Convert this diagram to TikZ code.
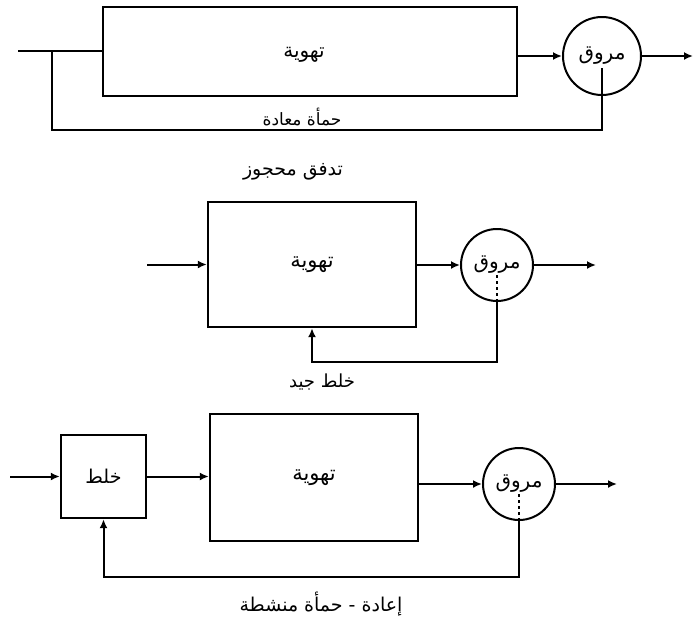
\documentclass[tikz,border=0pt]{standalone}
\usepackage{fontspec}
\newfontfamily\arabicfont[Script=Arabic]{DejaVu Sans}
\TeXXeTstate=1
\usetikzlibrary{arrows.meta,positioning,calc}
\newcommand{\ar}[1]{{\arabicfont\beginR #1\endR}}

\begin{document}
\begin{tikzpicture}[x=1pt, y=-1pt,
  font=\fontsize{19}{22}\selectfont,
  flow/.style={line width=2pt},
  arr/.style={flow, -{Latex[length=9pt, width=8pt]}},
  tank/.style={draw, line width=2.4pt, inner sep=0pt, font=\fontsize{21}{24}\selectfont},
  clar/.style={draw, circle, line width=2pt, inner sep=0pt, font=\fontsize{20}{23}\selectfont}]
  \useasboundingbox (0,0) rectangle (698,622);

  % Plug flow
  \node[tank, minimum width=414pt, minimum height=89pt] (tank1) at (310,51.5) {};
  \node[font=\fontsize{20}{23}\selectfont] (aer1) at (304,55) {\ar{تهوية}};
  \node[clar, minimum size=78pt] (clar1) at (602,56) {\ar{مروق}};
  \coordinate (in1) at (18,51);
  \coordinate (br1) at (52,51);
  \coordinate (low1) at (52,130);
  \coordinate (out1) at (693,56);
  \draw[flow] (in1) -- (tank1.west |- in1);
  \draw[arr] (tank1.east |- clar1) -- (clar1.west);
  \draw[arr] (clar1.east) -- (out1);
  \draw[flow] ([yshift=-12pt]clar1.center) |- (low1) -- (br1);
  \node[font=\fontsize{17}{20}\selectfont] (ret1) at (302,117) {\ar{حمأة معادة}};
  \node (cap1) at (293,172) {\ar{تدفق محجوز}};

  % Complete mix
  \node[tank, minimum width=208pt, minimum height=125pt] (tank2) at (312,264.5) {\ar{تهوية}};
  \node[clar, minimum size=72pt] (clar2) at (497,265) {\ar{مروق}};
  \coordinate (in2) at (147,264.5);
  \coordinate (out2) at (596,265);
  \coordinate (low2) at (497,362);
  \draw[arr] (in2) -- (tank2.west);
  \draw[arr] (tank2.east |- clar2) -- (clar2.west);
  \draw[arr] (clar2.east) -- (out2);
  \draw[flow, dashed] ([yshift=-10pt]clar2.center) -- (clar2.south);
  \draw[arr] (clar2.south) -- (low2) -| (tank2.south);
  \node[font=\fontsize{18}{21}\selectfont] (cap2) at (322,382) {\ar{خلط جيد}};

  % Contact stabilisation
  \node[tank, minimum width=85pt, minimum height=83pt, font=\fontsize{19}{22}\selectfont] (mix3) at (103.5,476.5) {\ar{خلط}};
  \node[tank, minimum width=208pt, minimum height=127pt] (tank3) at (314,477.5) {\ar{تهوية}};
  \node[clar, minimum size=72pt] (clar3) at (519,484) {\ar{مروق}};
  \coordinate (in3) at (10,476.5);
  \coordinate (out3) at (617,484);
  \coordinate (low3) at (519,577);
  \draw[arr] (in3) -- (mix3.west);
  \draw[arr] (mix3.east) -- (tank3.west |- mix3);
  \draw[arr] (tank3.east |- clar3) -- (clar3.west);
  \draw[arr] (clar3.east) -- (out3);
  \draw[flow, dashed] ([yshift=-10pt]clar3.center) -- (clar3.south);
  \draw[arr] (clar3.south) -- (low3) -| (mix3.south);
  \node (cap3) at (321,604) {\ar{إعادة - حمأة منشطة}};
\end{tikzpicture}
\end{document}
